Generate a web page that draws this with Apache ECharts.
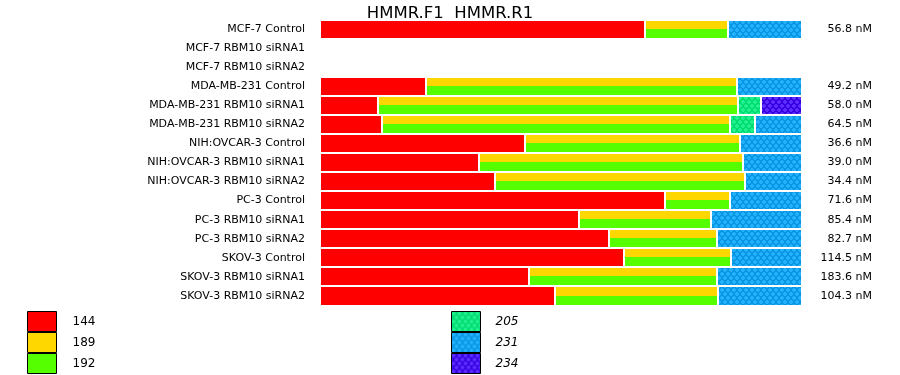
<!DOCTYPE html>
<html>
<head>
<meta charset="utf-8">
<script src="https://cdn.jsdelivr.net/npm/echarts@6/dist/echarts.min.js"></script>
<style>html,body{margin:0;padding:0;background:#fff}#c{width:900px;height:375px}</style>
</head>
<body>
<div id="c"></div>
<script>
const titleText = 'HMMR.F1  HMMR.R1';
const categories = ['MCF-7 Control','MCF-7 RBM10 siRNA1','MCF-7 RBM10 siRNA2','MDA-MB-231 Control','MDA-MB-231 RBM10 siRNA1','MDA-MB-231 RBM10 siRNA2','NIH:OVCAR-3 Control','NIH:OVCAR-3 RBM10 siRNA1','NIH:OVCAR-3 RBM10 siRNA2','PC-3 Control','PC-3 RBM10 siRNA1','PC-3 RBM10 siRNA2','SKOV-3 Control','SKOV-3 RBM10 siRNA1','SKOV-3 RBM10 siRNA2'];
const rightLabels = ['56.8 nM','','','49.2 nM','58.0 nM','64.5 nM','36.6 nM','39.0 nM','34.4 nM','71.6 nM','85.4 nM','82.7 nM','114.5 nM','183.6 nM','104.3 nM'];
// percent of each bar; the 189/192 segment is shown split yellow (189) over green (192)
const s144 = [67.4,null,null,22.0,12.0,12.9,42.5,33.0,36.3,71.6,53.7,60.0,63.1,43.4,48.8];
const s189_192 = [17.2,null,null,64.5,74.7,72.2,44.6,54.8,51.9,13.5,27.4,22.4,22.2,39.0,33.8];
const s205 = [null,null,null,null,4.8,5.1,null,null,null,null,null,null,null,null,null];
const s231 = [15.4,null,null,13.5,null,9.8,12.9,12.2,11.8,14.9,18.9,17.6,14.7,17.6,17.4];
const s234 = [null,null,null,null,8.5,null,null,null,null,null,null,null,null,null,null];
const legendLeft = ['144','189','192'];
const legendRight = ['205','231','234'];

const FONT = 'DejaVu Sans';
const RED = '#ff0000', YEL = '#ffd700', GRN = '#55ff00';
function makeTile(base, dot){
  const c = document.createElement('canvas'); c.width = 6; c.height = 8;
  const g = c.getContext('2d');
  g.fillStyle = base; g.fillRect(0,0,6,8);
  g.fillStyle = dot;
  function plus(x,y){ g.fillRect(x+1,y,2,4); g.fillRect(x,y+1,4,2); }
  plus(0,0); plus(3,4); plus(-3,4);
  return {image:c, repeat:'repeat'};
}
const P205 = makeTile('#00dd70','#22f090');
const P231 = makeTile('#0896e0','#22b0ff');
const P234 = makeTile('#3600e0','#5a2cff');
const segFills = [RED, 'YG', P205, P231, P234];

const rows = categories.map((c,i)=>[i, s144[i]||0, s189_192[i]||0, s205[i]||0, s231[i]||0, s234[i]||0]);

function renderItem(params, api){
  const i = api.value(0);
  const band = api.size([0,1])[1];
  const cy = api.coord([0,i])[1];
  const top = Math.round(cy - band/2) + 1;
  const bot = Math.round(cy + band/2) - 1;
  const h = bot - top;
  const children = [];
  let cum = 0;
  for (let k = 0; k < 5; k++){
    const v = api.value(k+1);
    if (!v) continue;
    const x0 = Math.round(api.coord([cum,i])[0]) + 1;
    cum += v;
    const x1 = Math.round(api.coord([Math.min(cum,100),i])[0]) - 1;
    if (segFills[k] === 'YG'){
      const hy = Math.floor(h/2);
      children.push({type:'rect',shape:{x:x0,y:top,width:x1-x0,height:hy},style:{fill:YEL,stroke:null,lineWidth:0}});
      children.push({type:'rect',shape:{x:x0,y:top+hy,width:x1-x0,height:h-hy},style:{fill:GRN,stroke:null,lineWidth:0}});
    } else {
      children.push({type:'rect',shape:{x:x0,y:top,width:x1-x0,height:h},style:{fill:segFills[k],stroke:null,lineWidth:0}});
    }
  }
  return {type:'group',children:children};
}
function legendSeries(name,color){
  return {type:'bar',name:name,data:[],itemStyle:{color:color},silent:true};
}
const chart = echarts.init(document.getElementById('c'),null,{renderer:'canvas'});
chart.setOption({
  animation:false,
  title:{text:titleText,left:'center',top:0,textStyle:{fontFamily:FONT,fontSize:16.5,fontWeight:'normal',color:'#000'}},
  grid:{left:320,right:98,top:19.5,bottom:69.5},
  xAxis:{type:'value',min:0,max:100,show:false},
  yAxis:[
    {type:'category',data:categories,inverse:true,axisLine:{show:false},axisTick:{show:false},
     axisLabel:{fontFamily:FONT,fontSize:11,color:'#000',margin:15}},
    {type:'category',data:rightLabels,inverse:true,position:'right',axisLine:{show:false},axisTick:{show:false},
     axisLabel:{fontFamily:FONT,fontSize:11,color:'#000',align:'right',margin:70}}
  ],
  legend:[
    {data:legendLeft,orient:'vertical',left:27,top:311,height:64,padding:0,itemWidth:29,itemHeight:20,itemGap:0,
     icon:'rect',selectedMode:false,itemStyle:{borderColor:'#000',borderWidth:1},
     textStyle:{fontFamily:FONT,fontSize:12,color:'#000',padding:[0,0,0,11]}},
    {data:legendRight,orient:'vertical',left:451,top:311,height:64,padding:0,itemWidth:29,itemHeight:20,itemGap:0,
     icon:'rect',selectedMode:false,itemStyle:{borderColor:'#000',borderWidth:1},
     textStyle:{fontFamily:FONT,fontSize:12,fontStyle:'italic',color:'#000',padding:[0,0,0,10]}}
  ],
  series:[
    {type:'custom',name:'bars',data:rows,renderItem:renderItem,encode:{x:1,y:0},silent:true,clip:false},
    legendSeries('144',RED),
    legendSeries('189',YEL),
    legendSeries('192',GRN),
    legendSeries('205',P205),
    legendSeries('231',P231),
    legendSeries('234',P234)
  ]
});
</script>
</body>
</html>
